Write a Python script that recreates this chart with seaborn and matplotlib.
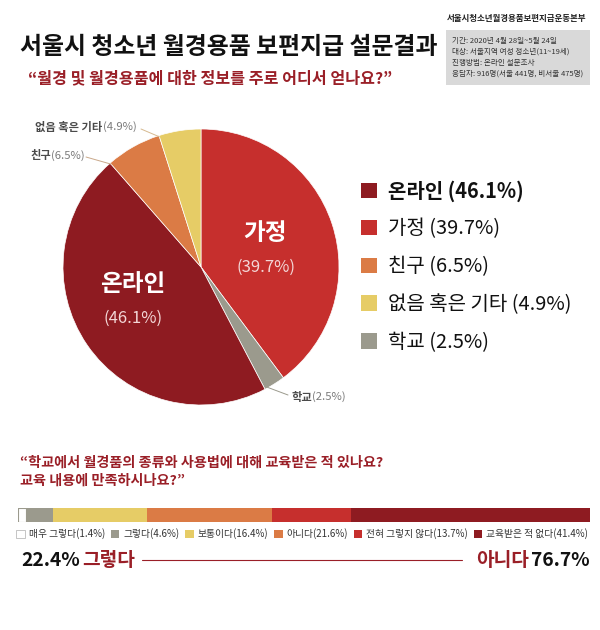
import numpy as np
import pandas as pd
import matplotlib
matplotlib.use("Agg")
import matplotlib.pyplot as plt
from matplotlib.patches import Rectangle, Patch
import seaborn as sns

sns.set_theme(style="white")
plt.rcParams['font.family'] = ['Noto Sans CJK KR', 'DejaVu Sans']

# ---------------- data ----------------
title = "서울시 청소년 월경용품 보편지급 설문결과"
q1 = "“월경 및 월경용품에 대한 정보를 주로 어디서 얻나요?”"
org = "서울시청소년월경용품보편지급운동본부"
info_lines = ["기간: 2020년 4월 28일~5월 24일",
              "대상: 서울지역 여성 청소년(11~19세)",
              "진행방법: 온라인 설문조사",
              "응답자: 916명(서울 441명, 비서울 475명)"]

# pie, clockwise from 12 o'clock
pie_labels = ["가정", "학교", "온라인", "친구", "없음 혹은 기타"]
pie_values = [39.7, 2.5, 46.1, 6.5, 4.9]
pie_colors = ["#C62F2D", "#9B9A8D", "#8E1B21", "#DB7B45", "#E6CC66"]
legend_order = ["온라인", "가정", "친구", "없음 혹은 기타", "학교"]

q2 = "“학교에서 월경품의 종류와 사용법에 대해 교육받은 적 있나요?\n교육 내용에 만족하시나요?”"
bar_labels = ["매우 그렇다", "그렇다", "보통이다", "아니다", "전혀 그렇지 않다", "교육받은 적 없다"]
bar_values = [1.4, 4.6, 16.4, 21.6, 13.7, 41.4]
bar_colors = ["#FFFFFF", "#9B9A8D", "#E6CC66", "#DB7B45", "#C62F2D", "#8E1B21"]
yes_total = "22.4%"
no_total = "76.7%"

DARKRED = "#9A1F27"
W, H = 600, 630
fig = plt.figure(figsize=(6, 6.3), dpi=100)
fig.patch.set_facecolor("white")

def fx(x): return x / W
def fy(y): return 1 - y / H

# ---------------- header ----------------
fig.text(fx(20), fy(47), title, fontsize=17.2, fontweight="bold", color="#111111", va="center", ha="left")
fig.text(fx(28), fy(78), q1, fontsize=11.6, fontweight="bold", color=DARKRED, va="center", ha="left")
fig.text(fx(447), fy(18), org, fontsize=6.1, fontweight="bold", color="#222222", va="center", ha="left")
fig.patches.append(Rectangle((fx(446), fy(85)), fx(590) - fx(446), fy(30) - fy(85),
                             transform=fig.transFigure, facecolor="#D9D9D9", edgecolor="none"))
for i, line in enumerate(info_lines):
    fig.text(fx(452), fy(41 + 11 * i), line, fontsize=5.45, color="#333333", va="center", ha="left")

# ---------------- pie ----------------
R = 138
cx, cy = 201, 267
axp = fig.add_axes([fx(cx - R), fy(cy + R), 2 * R / W, 2 * R / H])
wedges, _ = axp.pie(pie_values, colors=pie_colors, startangle=90, counterclock=False,
                    wedgeprops=dict(linewidth=0.5, edgecolor="white"))
axp.set_xlim(-1, 1)
axp.set_ylim(-1, 1)
axp.set_aspect("equal")
axp.axis("off")

def pxd(x, y):
    return ((x - cx) / R, (cy - y) / R)

val = dict(zip(pie_labels, pie_values))
for name, (x1, y1), (x2, y2), fs in [("가정", (265, 233), (266, 267), 17),
                                     ("온라인", (133, 284), (133, 318), 17)]:
    axp.text(*pxd(x1, y1), name, fontsize=fs, fontweight="bold", color="white", ha="center", va="center")
    axp.text(*pxd(x2, y2), f"({val[name]}%)", fontsize=12, color="#F3D6D6", ha="center", va="center")

# slice boundaries
total = sum(pie_values)
bounds = {}
start = 90.0
for lab, v in zip(pie_labels, pie_values):
    span = v / total * 360
    bounds[lab] = (start, start - span)
    start -= span

def outside_label(name, x_left, y, line_start, ang_deg, r_edge, col):
    t1 = fig.text(fx(x_left), fy(y), name, fontsize=8.1, fontweight="bold", color="#4A4A4A",
                  ha="left", va="center")
    axp.annotate(f"({val[name]}%)", xy=(1, 0.5), xycoords=t1, xytext=(0.5, 0),
                 textcoords="offset points", fontsize=8.1, color="#7A7A7A",
                 ha="left", va="center")
    a = np.deg2rad(ang_deg)
    pt = (r_edge * np.cos(a), r_edge * np.sin(a))
    axp.annotate("", xy=pt, xycoords="data",
                 xytext=(fx(line_start[0]), fy(line_start[1])), textcoords="figure fraction",
                 arrowprops=dict(arrowstyle="-", color=col, lw=0.7, shrinkA=0, shrinkB=0,
                                 connectionstyle="arc3,rad=0"))

outside_label("없음 혹은 기타", 35, 127, (141, 129), bounds["없음 혹은 기타"][0], 0.99, "#D6B98F")
outside_label("친구", 30, 156, (86, 157), bounds["친구"][0], 0.99, "#C9A88A")
outside_label("학교", 291, 397, (288, 395), bounds["학교"][1] + 1, 0.99, "#9B9A8D")

# pie legend
wmap = dict(zip(pie_labels, wedges))
handles = [Patch(facecolor=wmap[n].get_facecolor(), edgecolor="none") for n in legend_order]
labels = [f"{n} ({val[n]}%)" for n in legend_order]
leg = fig.legend(handles, labels, loc="upper left", bbox_to_anchor=(fx(361), fy(180)),
                 bbox_transform=fig.transFigure, frameon=False, fontsize=14.4,
                 handlelength=0.8, handleheight=0.8, handletextpad=0.55,
                 labelspacing=0.84, borderpad=0, borderaxespad=0)
for i, t in enumerate(leg.get_texts()):
    t.set_color("#111111")
    if i == 0:
        t.set_fontweight("bold")

# ---------------- second question ----------------
fig.text(fx(20), fy(472), q2, fontsize=10.2, fontweight="bold", color=DARKRED,
         va="center", ha="left", linespacing=1.35)

axb = fig.add_axes([fx(18), fy(522), (590 - 18) / W, 14 / H])
cum = np.cumsum(bar_values)
for i in range(len(bar_values) - 1, -1, -1):
    df = pd.DataFrame({"value": [cum[i]], "q": ["교육"]})
    sns.barplot(data=df, x="value", y="q", orient="h", color=bar_colors[i], saturation=1,
                width=1.0, ax=axb, edgecolor="#9B9A8D" if i == 0 else "none",
                linewidth=0.8 if i == 0 else 0)
axb.set_xlim(0, cum[-1])
axb.set_ylim(0.5, -0.5)
axb.axis("off")

bh = [Patch(facecolor=c, edgecolor="#BBBBBB" if c == "#FFFFFF" else "none", linewidth=0.6)
      for c in bar_colors]
bl = [f"{l}({v}%)" for l, v in zip(bar_labels, bar_values)]
leg2 = fig.legend(bh, bl, loc="center left", bbox_to_anchor=(fx(16), fy(534)),
                  bbox_transform=fig.transFigure, frameon=False, ncol=6, fontsize=7.0,
                  handlelength=0.9, handleheight=0.9, handletextpad=0.4,
                  columnspacing=0.58, borderpad=0, borderaxespad=0)
for t in leg2.get_texts():
    t.set_color("#333333")

# bottom summary
t_yes = fig.text(fx(21), fy(561), yes_total, fontsize=13.8, fontweight="bold", color="#111111",
                 ha="left", va="center")
axb.annotate("그렇다", xy=(1, 0.5), xycoords=t_yes, xytext=(1.5, 0), textcoords="offset points",
             fontsize=13.8, fontweight="bold", color=DARKRED, ha="left", va="center")
t_no = fig.text(fx(590), fy(561), no_total, fontsize=13.8, fontweight="bold", color="#111111",
                ha="right", va="center")
axb.annotate("아니다", xy=(0, 0.5), xycoords=t_no, xytext=(-1.5, 0), textcoords="offset points",
             fontsize=13.8, fontweight="bold", color=DARKRED, ha="right", va="center")
fig.add_artist(plt.Line2D([fx(142), fx(462)], [fy(560), fy(560)], color=DARKRED, lw=0.8,
                          transform=fig.transFigure))

fig.savefig("out.png", dpi=100, facecolor="white")
